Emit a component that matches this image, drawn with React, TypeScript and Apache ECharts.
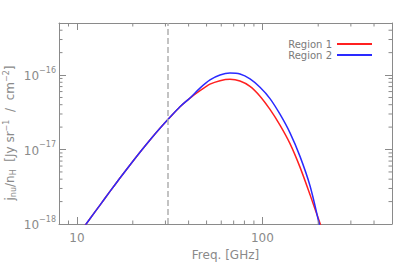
import React, { useEffect, useRef } from "react";
import * as echarts from "echarts";

const commonFreq = [10.38, 11.75, 13.31, 15.07, 17.06, 19.32, 21.87, 24.76, 28.04, 31.74, 35.94, 40.7, 46.07, 52.17, 59.07, 66.87, 75.72, 85.74, 97.07, 109.9, 124.4, 140.9, 159.5, 180.6];
const region1Freq = [...commonFreq, 204.5, 218.7];
const region1Val = [7.7e-19, 1.175e-18, 1.795e-18, 2.74e-18, 4.14e-18, 6.21e-18, 9.21e-18, 1.345e-17, 1.93e-17, 2.71e-17, 3.76e-17, 4.91e-17, 6.16e-17, 7.55e-17, 8.41e-17, 8.78e-17, 8.34e-17, 7.06e-17, 5.21e-17, 3.46e-17, 2.13e-17, 1.2e-17, 5.8e-18, 2.48e-18, 1.02e-18, 6.35e-19];
const region2Freq = [...commonFreq, 202.0, 210.7];
const region2Val = [7.7e-19, 1.175e-18, 1.795e-18, 2.74e-18, 4.14e-18, 6.21e-18, 9.21e-18, 1.345e-17, 1.93e-17, 2.71e-17, 3.76e-17, 4.93e-17, 6.68e-17, 8.59e-17, 1.0e-16, 1.062e-16, 1.031e-16, 8.86e-17, 6.85e-17, 4.83e-17, 2.98e-17, 1.675e-17, 8.09e-18, 3.26e-18, 1.03e-18, 6.35e-19];

const seriesNames = ["Region 1", "Region 2"];
const markerFreq = 31;
const xMin = 8;
const xMax = 500;
const yMin = 1e-18;
const yMax = 5e-16;
const xMinorTicks = [9, 20, 30, 40, 50, 60, 70, 80, 90, 200, 300, 400];
const yMinorTicks = [
  2e-18, 3e-18, 4e-18, 5e-18, 6e-18, 7e-18, 8e-18, 9e-18,
  2e-17, 3e-17, 4e-17, 5e-17, 6e-17, 7e-17, 8e-17, 9e-17,
  2e-16, 3e-16, 4e-16,
];

const FONT = "DejaVu Sans";
const AX = "#8a8a8a";
const TXT = "#8a8a8a";
const RED = "#ff2020";
const BLUE = "#2a2aff";

function isPow10(v: number) {
  const e = Math.round(Math.log10(v));
  return Math.abs(v / Math.pow(10, e) - 1) < 1e-6;
}

export default function App() {
  const ref = useRef<HTMLDivElement>(null);
  useEffect(() => {
    if (!ref.current) return;
    const chart = echarts.init(ref.current, null, { renderer: "svg" });
    const axisCommon = {
      type: "log" as const,
      logBase: 10,
      axisLine: { show: true, lineStyle: { color: AX, width: 1 } },
      axisTick: { show: true, inside: true, length: 7, lineStyle: { color: AX, width: 1 } },
      splitLine: { show: false },
    };
    const option: any = {
      animation: false,
      backgroundColor: "#fff",
      grid: { left: 59, right: 7, top: 23, bottom: 38, containLabel: false },
      legend: {
        orient: "vertical",
        right: 22,
        top: 34,
        align: "right",
        itemWidth: 35,
        itemHeight: 2,
        itemGap: 1,
        icon: "rect",
        textStyle: { fontSize: 10, color: "#7a7a7a", lineHeight: 9, fontFamily: FONT },
        data: seriesNames,
      },
      xAxis: [
        {
          ...axisCommon,
          position: "bottom",
          min: xMin,
          max: xMax,
          axisLabel: {
            show: true,
            color: TXT,
            fontSize: 12,
            fontFamily: FONT,
            margin: 8,
            formatter: (v: number) => (isPow10(v) ? String(Math.round(v)) : ""),
          },
          name: "Freq. [GHz]",
          nameLocation: "middle",
          nameGap: 25,
          nameTextStyle: { color: TXT, fontSize: 12, fontFamily: FONT },
        },
        {
          ...axisCommon,
          position: "top",
          min: xMin,
          max: xMax,
          axisLabel: { show: false },
        },
      ],
      yAxis: [
        {
          ...axisCommon,
          position: "left",
          min: yMin,
          max: yMax,
          axisLabel: {
            show: true,
            margin: 3,
            color: TXT,
            fontFamily: FONT,
            formatter: (v: number) => {
              if (!isPow10(v)) return "";
              const e = Math.round(Math.log10(v));
              return "{b|10}{s|" + String(e).replace("-", "\u2212") + "}";
            },
            rich: {
              b: { fontSize: 12, color: TXT, fontFamily: FONT, lineHeight: 14, verticalAlign: "bottom" },
              s: { fontSize: 8, color: TXT, fontFamily: FONT, lineHeight: 8, padding: [0, 0, 8, 0], verticalAlign: "bottom" },
            },
          },
        },
        {
          ...axisCommon,
          position: "right",
          min: yMin,
          max: yMax,
          axisLabel: { show: false },
        },
      ],
      graphic: [
        {
          type: "text",
          x: 10,
          y: 133,
          rotation: Math.PI / 2,
          style: {
            text: "j{sub|nu}/n{sub|H}  [Jy sr{sup|\u22121}  /  cm{sup|\u22122}]",
            align: "center",
            verticalAlign: "middle",
            fill: TXT,
            fontSize: 12,
            fontFamily: FONT,
            rich: {
              sub: { fontSize: 8, fill: TXT, fontFamily: FONT, padding: [6, 0, 0, 0] },
              sup: { fontSize: 8, fill: TXT, fontFamily: FONT, padding: [0, 0, 7, 0] },
            },
          },
        },
      ],
      series: [
        {
          name: seriesNames[0],
          type: "line",
          data: region1Freq.map((f, i) => [f, region1Val[i]]),
          showSymbol: false,
          symbol: "none",
          smooth: 0.3,
          clip: true,
          lineStyle: { color: RED, width: 1.5 },
          itemStyle: { color: RED },
          z: 3,
          markLine: {
            silent: true,
            symbol: ["none", "none"],
            label: { show: false },
            lineStyle: { color: "#b0b0b0", width: 1.5, type: [6, 3] },
            data: [{ xAxis: markerFreq }],
          },
        },
        {
          name: seriesNames[1],
          type: "line",
          data: region2Freq.map((f, i) => [f, region2Val[i]]),
          showSymbol: false,
          symbol: "none",
          smooth: 0.3,
          clip: true,
          lineStyle: { color: BLUE, width: 1.5 },
          itemStyle: { color: BLUE },
          z: 4,
        },
        {
          type: "custom",
          silent: true,
          data: xMinorTicks.map((v) => [v, yMin]),
          renderItem: (params: any, api: any) => {
            const p = api.coord([api.value(0), yMin]);
            const cs = params.coordSys;
            const st = { stroke: AX, lineWidth: 1 };
            return {
              type: "group",
              children: [
                { type: "line", shape: { x1: p[0], y1: cs.y + cs.height, x2: p[0], y2: cs.y + cs.height - 3.5 }, style: st },
                { type: "line", shape: { x1: p[0], y1: cs.y, x2: p[0], y2: cs.y + 3.5 }, style: st },
              ],
            };
          },
          z: 5,
        },
        {
          type: "custom",
          silent: true,
          data: yMinorTicks.map((v) => [xMin, v]),
          renderItem: (params: any, api: any) => {
            const p = api.coord([xMin, api.value(1)]);
            const cs = params.coordSys;
            const st = { stroke: AX, lineWidth: 1 };
            return {
              type: "group",
              children: [
                { type: "line", shape: { x1: cs.x, y1: p[1], x2: cs.x + 3.5, y2: p[1] }, style: st },
                { type: "line", shape: { x1: cs.x + cs.width, y1: p[1], x2: cs.x + cs.width - 3.5, y2: p[1] }, style: st },
              ],
            };
          },
          z: 5,
        },
      ],
    };
    chart.setOption(option);
    return () => chart.dispose();
  }, []);
  return (
    <div
      ref={ref}
      style={{ position: "fixed", left: 0, top: 0, width: 399, height: 266, background: "#fff" }}
    />
  );
}
